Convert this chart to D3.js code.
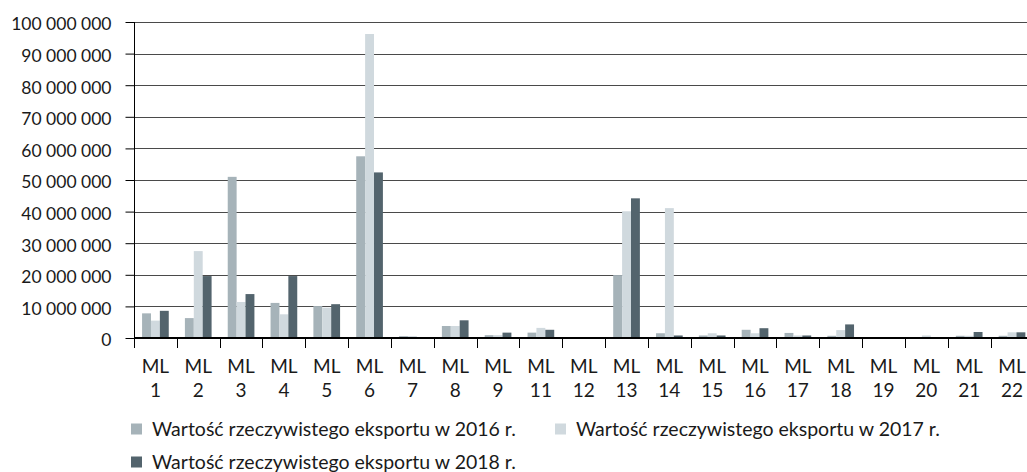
<!DOCTYPE html>
<html lang="pl">
<head>
<meta charset="UTF-8">
<title>Wartość rzeczywistego eksportu</title>
<script src="https://d3js.org/d3.v7.min.js"></script>
<style>
  body { margin: 0; background: #fff; }
  svg text { font-family: Lato, "Open Sans", sans-serif; font-size: 19px; fill: #1a1a1a; }
  .grid line { stroke: #4a4a4a; stroke-width: 1; shape-rendering: crispEdges; }
</style>
</head>
<body>
<script>
  // categories (there is no ML 10 in the source)
  var categories = ["1", "2", "3", "4", "5", "6", "7", "8", "9", "11", "12",
                    "13", "14", "15", "16", "17", "18", "19", "20", "21", "22"];

  // values, in millions
  var v2016 = [7.8, 6.3, 51.0, 11.1, 10.1, 57.5, 0.6, 3.8, 0.9, 1.7, 0.1,
               19.9, 1.5, 0.8, 2.6, 1.6, 0.7, 0.05, 0.1, 0.7, 0.7];
  var v2017 = [5.5, 27.5, 11.4, 7.5, 9.6, 96.2, 0.6, 3.8, 0.9, 3.2, 0.1,
               40.1, 41.1, 1.5, 1.5, 0.8, 2.5, 0.05, 0.8, 0.7, 1.8];
  var v2018 = [8.6, 19.6, 13.9, 19.6, 10.7, 52.4, 0.1, 5.6, 1.7, 2.6, 0.1,
               44.2, 0.8, 0.8, 3.1, 0.8, 4.3, 0.05, 0.05, 1.9, 1.8];

  var seriesNames = ["Wartość rzeczywistego eksportu w 2016 r.",
                     "Wartość rzeczywistego eksportu w 2017 r.",
                     "Wartość rzeczywistego eksportu w 2018 r."];
  var seriesColors = ["#a6b3b9", "#d0d9de", "#53646d"];
  var yTicks = [0, 10e6, 20e6, 30e6, 40e6, 50e6, 60e6, 70e6, 80e6, 90e6, 100e6];

  var series = [v2016, v2017, v2018];

  var W = 1027, H = 472;
  var plotLeft = 134, plotTop = 22, plotBottom = 338;
  var step = 42.83;

  var svg = d3.select("body").append("svg")
      .attr("width", W)
      .attr("height", H);

  var x = d3.scaleBand()
      .domain(categories)
      .range([plotLeft, plotLeft + categories.length * step])
      .paddingInner(0.377)
      .paddingOuter(0.1885);

  var xs = d3.scaleBand()
      .domain([0, 1, 2])
      .range([0, x.bandwidth()]);

  var y = d3.scaleLinear().domain([0, 100e6]).range([plotBottom, plotTop]);

  var fmt = d3.formatLocale({decimal: ",", thousands: " ", grouping: [3], currency: ["", ""]}).format(",");

  // gridlines
  svg.append("g").attr("class", "grid")
    .selectAll("line")
    .data(yTicks.slice(1))
    .join("line")
      .attr("x1", plotLeft).attr("x2", W)
      .attr("y1", d => Math.round(y(d)) + 0.5)
      .attr("y2", d => Math.round(y(d)) + 0.5);

  // bars
  svg.append("g")
    .selectAll("g")
    .data(series)
    .join("g")
      .attr("fill", (s, i) => seriesColors[i])
    .each(function(s, si) {
      d3.select(this).selectAll("rect")
        .data(s)
        .join("rect")
          .attr("x", (d, i) => x(categories[i]) + xs(si))
          .attr("width", xs.bandwidth())
          .attr("y", d => y(d * 1e6))
          .attr("height", d => y(0) - y(d * 1e6));
    });

  // y axis
  var yAxis = svg.append("g")
      .attr("transform", "translate(" + (plotLeft + 0.5) + ",0)")
      .call(d3.axisLeft(y).tickValues(yTicks).tickFormat(fmt).tickSize(9).tickPadding(14));
  yAxis.select(".domain").attr("stroke", "#000").attr("d", "M0," + plotTop + "V" + (plotBottom + 10));
  yAxis.selectAll(".tick line").attr("stroke", "#000");
  yAxis.selectAll(".tick text").attr("dy", "0.45em").style("font-size", "17.5px");

  // x axis: baseline + ticks at band boundaries
  var boundaries = d3.range(categories.length + 1).map(i => x.range()[0] + i * x.step());
  svg.append("line")
      .attr("x1", plotLeft).attr("x2", W)
      .attr("y1", plotBottom).attr("y2", plotBottom)
      .attr("stroke", "#000").attr("stroke-width", 2);
  svg.append("g")
    .selectAll("line")
    .data(boundaries)
    .join("line")
      .attr("x1", d => Math.round(d) + 0.5).attr("x2", d => Math.round(d) + 0.5)
      .attr("y1", plotBottom).attr("y2", plotBottom + 10)
      .attr("stroke", "#000");

  var lab = svg.append("g")
    .selectAll("text")
    .data(categories)
    .join("text")
      .attr("text-anchor", "middle")
      .attr("x", d => x(d) + x.bandwidth() / 2);
  lab.append("tspan").attr("y", 372.5).text("ML");
  lab.append("tspan").attr("x", d => x(d) + x.bandwidth() / 2).attr("y", 396.5).text(d => d);

  // legend
  var legendPos = [[131, 423.5], [555, 423.5], [131, 456.5]];
  var lg = svg.append("g")
    .selectAll("g")
    .data(seriesNames)
    .join("g")
      .attr("transform", (d, i) => "translate(" + legendPos[i][0] + "," + legendPos[i][1] + ")");
  lg.append("rect")
      .attr("width", 11).attr("height", 11)
      .attr("fill", (d, i) => seriesColors[i]);
  lg.append("text")
      .attr("x", 21).attr("y", 12)
      .style("font-size", "19.5px")
      .text(d => d);
</script>
</body>
</html>
